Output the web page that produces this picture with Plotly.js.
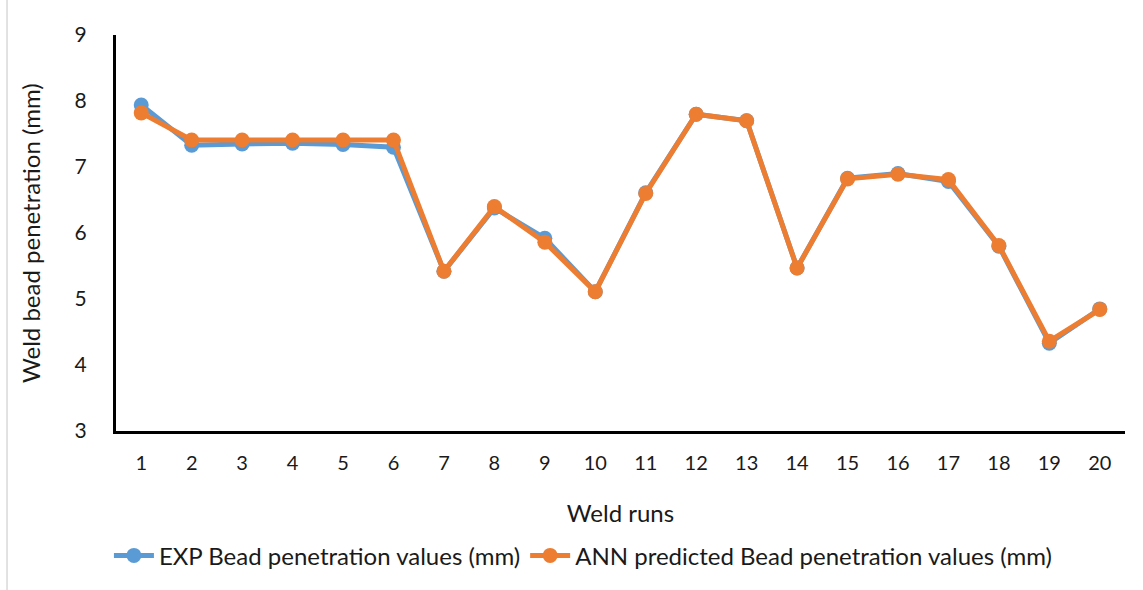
<!DOCTYPE html>
<html>
<head>
<meta charset="utf-8">
<script src="https://cdn.plot.ly/plotly-3.0.1.min.js"></script>
<style>html,body{margin:0;padding:0;background:#fff;}#chart{width:1143px;height:590px;}</style>
</head>
<body>
<div id="chart"></div>
<script>
const runs = [1,2,3,4,5,6,7,8,9,10,11,12,13,14,15,16,17,18,19,20];
const expValues = [7.94,7.33,7.35,7.36,7.34,7.30,5.42,6.38,5.92,5.11,6.61,7.80,7.70,5.47,6.83,6.90,6.78,5.80,4.33,4.85];
const annValues = [7.82,7.41,7.41,7.41,7.41,7.41,5.42,6.40,5.86,5.11,6.60,7.80,7.70,5.47,6.82,6.89,6.81,5.81,4.36,4.84];
const expName = 'EXP Bead penetration values (mm)';
const annName = 'ANN predicted Bead penetration values (mm)';
const xTitle = 'Weld runs';
const yTitle = 'Weld bead penetration (mm)';

const font = "Lato, 'Open Sans', sans-serif";
const traces = [
  {x: runs, y: expValues, name: expName, type: 'scatter', mode: 'lines+markers',
   line: {color: '#5B9BD5', width: 5}, marker: {color: '#5B9BD5', size: 15}},
  {x: runs, y: annValues, name: annName, type: 'scatter', mode: 'lines+markers',
   line: {color: '#ED7D31', width: 5}, marker: {color: '#ED7D31', size: 15}}
];
const layout = {
  width: 1143, height: 590,
  margin: {l: 116, r: 18, t: 35, b: 159},
  paper_bgcolor: '#fff', plot_bgcolor: '#fff',
  font: {family: font, color: '#1a1a1a', size: 20},
  showlegend: true,
  legend: {orientation: 'h', xref: 'container', yref: 'container', x: 0.51, xanchor: 'center', y: 0.058, yanchor: 'middle',
           font: {size: 24, family: font}, itemwidth: 40, tracegroupgap: 0, entrywidthmode: 'pixels'},
  xaxis: {
    range: [0.5, 20.5], tickmode: 'array', tickvals: runs, ticktext: runs.map(String),
    showgrid: false, zeroline: false, showline: true, linecolor: '#000', linewidth: 3,
    ticks: 'outside', ticklen: 12, tickcolor: 'rgba(0,0,0,0)',
    tickfont: {size: 20},
    title: {text: xTitle, font: {size: 24}, standoff: 33}
  },
  yaxis: {
    range: [3, 9], dtick: 1, tick0: 3,
    showgrid: false, zeroline: false, showline: true, linecolor: '#000', linewidth: 3,
    ticks: 'outside', ticklen: 22, tickcolor: 'rgba(0,0,0,0)',
    tickfont: {size: 21}
  },
  annotations: [
    {text: yTitle, xref: 'paper', yref: 'paper', x: -0.0852, y: 0.5, xanchor: 'center', yanchor: 'middle',
     textangle: -90, showarrow: false, font: {size: 24, family: font, color: '#1a1a1a'}}
  ],
  shapes: [
    {type: 'line', xref: 'paper', yref: 'paper', x0: -0.108, x1: -0.108, y0: -0.42, y1: 1.1, line: {color: '#d9d9d9', width: 1.5}}
  ]
};
Plotly.newPlot('chart', traces, layout, {displayModeBar: false, staticPlot: true});
</script>
</body>
</html>
